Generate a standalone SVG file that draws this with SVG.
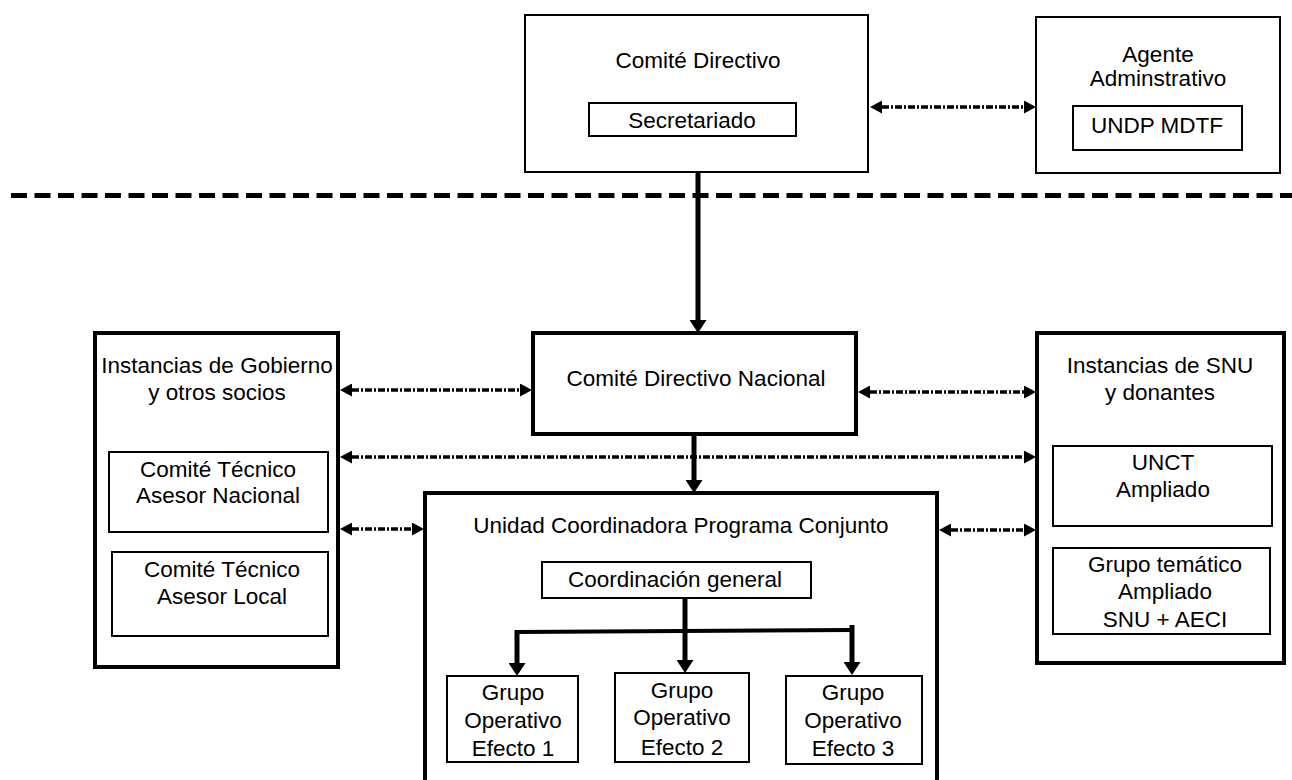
<svg xmlns="http://www.w3.org/2000/svg" width="1292" height="780" viewBox="0 0 1292 780">
<style>
text{font-family:"Liberation Sans",Arial,sans-serif;font-size:22.5px;fill:#000;text-anchor:middle}
.thin{fill:#fff;stroke:#000;stroke-width:2}
.thick{fill:#fff;stroke:#000;stroke-width:4}
.dd{fill:none;stroke:#000;stroke-width:3.5;stroke-dasharray:7 2 2 2;marker-start:url(#hd);marker-end:url(#hd)}
.solid{fill:none;stroke:#000;stroke-width:5}
</style>
<defs>
<marker id="hd" markerUnits="userSpaceOnUse" viewBox="0 0 12 13" refX="0" refY="6.5" markerWidth="12" markerHeight="13" orient="auto-start-reverse"><path d="M0,0 L12,6.5 L0,13 z" fill="#000"/></marker>
<marker id="hs" markerUnits="userSpaceOnUse" viewBox="0 0 13 17" refX="0" refY="8.5" markerWidth="13" markerHeight="17" orient="auto"><path d="M0,0 L13,8.5 L0,17 z" fill="#000"/></marker>
</defs>
<rect width="1292" height="780" fill="#fff"/>

<g id="comite-directivo">
<rect class="thin" x="525" y="15" width="343" height="157"/>
<text x="698" y="68">Comité Directivo</text>
<rect class="thin" x="589" y="103" width="207" height="33"/>
<text x="692" y="128">Secretariado</text>
</g>

<g id="agente">
<rect class="thin" x="1036" y="17" width="244" height="156"/>
<text x="1158" y="62">Agente</text>
<text x="1158" y="86">Adminstrativo</text>
<rect class="thin" x="1073" y="106" width="169" height="44"/>
<text x="1157" y="133">UNDP MDTF</text>
</g>

<line id="divider" x1="11" y1="195.5" x2="1292" y2="195.5" stroke="#000" stroke-width="5" stroke-dasharray="16 7.5"/>

<g id="gobierno">
<rect class="thick" x="95" y="333" width="243" height="334"/>
<text x="217" y="373">Instancias de Gobierno</text>
<text x="217" y="400">y otros socios</text>
<rect class="thin" x="109" y="452" width="219" height="80"/>
<text x="218" y="477">Comité Técnico</text>
<text x="218" y="503">Asesor Nacional</text>
<rect class="thin" x="112" y="552" width="216" height="84"/>
<text x="222" y="577">Comité Técnico</text>
<text x="222" y="604">Asesor Local</text>
</g>

<g id="cdn">
<rect class="thick" x="533" y="333" width="323" height="101"/>
<text x="696" y="386">Comité Directivo Nacional</text>
</g>

<g id="snu">
<rect class="thick" x="1037" y="333" width="247" height="330"/>
<text x="1160" y="373">Instancias de SNU</text>
<text x="1160" y="400">y donantes</text>
<rect class="thin" x="1053" y="446" width="219" height="80"/>
<text x="1163" y="470">UNCT</text>
<text x="1163" y="497">Ampliado</text>
<rect class="thin" x="1053" y="548" width="217" height="86"/>
<text x="1165" y="572">Grupo temático</text>
<text x="1165" y="599">Ampliado</text>
<text x="1165" y="627">SNU + AECI</text>
</g>

<g id="unidad">
<rect class="thick" x="425" y="493" width="512" height="300"/>
<text x="681" y="533">Unidad Coordinadora Programa Conjunto</text>
<g id="coordinacion">
<rect class="thin" x="542" y="562" width="269" height="36"/>
<text x="675" y="587">Coordinación general</text>
</g>
<g id="grupo1">
<rect class="thin" x="447" y="676" width="131" height="86"/>
<text x="513" y="700">Grupo</text>
<text x="513" y="728">Operativo</text>
<text x="513" y="756">Efecto 1</text>
</g>
<g id="grupo2">
<rect class="thin" x="615" y="673" width="134" height="89"/>
<text x="682" y="698">Grupo</text>
<text x="682" y="725">Operativo</text>
<text x="682" y="755">Efecto 2</text>
</g>
<g id="grupo3">
<rect class="thin" x="786" y="676" width="136" height="88"/>
<text x="853" y="700">Grupo</text>
<text x="853" y="728">Operativo</text>
<text x="853" y="756">Efecto 3</text>
</g>
</g>

<g id="connectors">
<line class="dd" x1="882" y1="107" x2="1024" y2="107"/>
<line class="solid" x1="698" y1="172" x2="698" y2="320" marker-end="url(#hs)"/>
<line class="dd" x1="352" y1="390" x2="520" y2="390"/>
<line class="dd" x1="870" y1="392" x2="1024" y2="392"/>
<line class="dd" x1="352" y1="457" x2="1024" y2="457"/>
<line class="solid" x1="694" y1="434" x2="694" y2="480" marker-end="url(#hs)"/>
<line class="dd" x1="352" y1="529" x2="412" y2="529"/>
<line class="dd" x1="951" y1="530" x2="1024" y2="530"/>
<line class="solid" x1="685" y1="598" x2="685" y2="660" marker-end="url(#hs)"/>
<polyline fill="none" stroke="#000" stroke-width="4" points="517,632 852,630"/>
<line class="solid" x1="517" y1="630" x2="517" y2="663" marker-end="url(#hs)"/>
<line class="solid" x1="852" y1="625" x2="852" y2="662" marker-end="url(#hs)"/>
</g>
</svg>
